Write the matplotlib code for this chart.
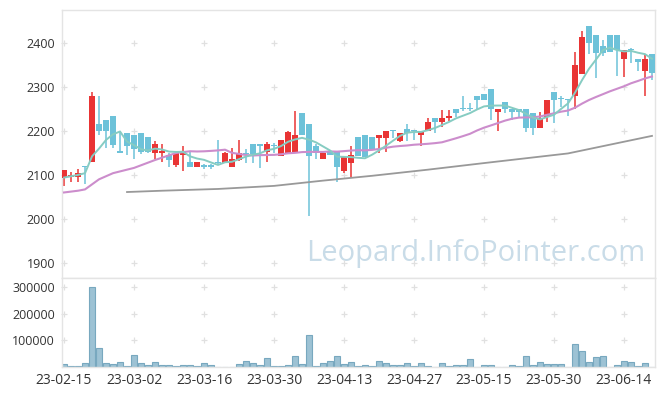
import numpy as np
import pandas as pd
import matplotlib
matplotlib.use('Agg')
import matplotlib.pyplot as plt

# tick labels, one every 10 trading days
tick_labels = ['23-02-15', '23-03-02', '23-03-16', '23-03-30', '23-04-13',
               '23-04-27', '23-05-15', '23-05-30', '23-06-14']

opens = [2094, 2095, 2095, 2119, 2129, 2216, 2226, 2235, 2155, 2195,
         2192, 2195, 2187, 2149, 2149, 2146, 2123, 2145, 2130, 2119,
         2120, 2120, 2130, 2128, 2119, 2134, 2150, 2171, 2171, 2153,
         2166, 2144, 2149, 2149, 2241, 2216, 2166, 2136, 2155, 2155,
         2110, 2128, 2187, 2191, 2187, 2185, 2185, 2201, 2178, 2205,
         2201, 2190, 2199, 2229, 2220, 2229, 2250, 2251, 2251, 2280,
         2285, 2296, 2244, 2266, 2250, 2250, 2250, 2241, 2208, 2233,
         2289, 2275, 2272, 2279, 2330, 2440, 2419, 2394, 2419, 2419,
         2364, 2386, 2365, 2338, 2376]
highs = [2111, 2107, 2113, 2121, 2290, 2280, 2226, 2235, 2199, 2195,
         2192, 2195, 2187, 2178, 2170, 2151, 2153, 2166, 2153, 2130,
         2125, 2126, 2180, 2153, 2161, 2180, 2160, 2171, 2171, 2174,
         2172, 2180, 2200, 2246, 2241, 2216, 2171, 2151, 2155, 2155,
         2143, 2167, 2187, 2191, 2187, 2191, 2200, 2201, 2195, 2216,
         2201, 2200, 2229, 2229, 2248, 2248, 2250, 2279, 2265, 2280,
         2285, 2296, 2251, 2266, 2250, 2250, 2250, 2241, 2244, 2271,
         2289, 2279, 2272, 2380, 2429, 2440, 2419, 2407, 2419, 2419,
         2385, 2389, 2365, 2376, 2376]
lows = [2075, 2084, 2083, 2080, 2129, 2191, 2161, 2161, 2149, 2146,
        2136, 2148, 2150, 2136, 2130, 2119, 2119, 2110, 2119, 2119,
        2113, 2114, 2126, 2128, 2119, 2132, 2128, 2128, 2115, 2130,
        2150, 2144, 2149, 2149, 2190, 2006, 2136, 2136, 2145, 2083,
        2104, 2095, 2143, 2140, 2159, 2149, 2153, 2185, 2174, 2178,
        2180, 2165, 2199, 2195, 2210, 2222, 2231, 2245, 2246, 2250,
        2270, 2225, 2200, 2241, 2225, 2233, 2197, 2191, 2208, 2221,
        2219, 2255, 2234, 2251, 2330, 2375, 2320, 2372, 2380, 2326,
        2324, 2355, 2338, 2279, 2317]
closes = [2111, 2100, 2104, 2117, 2280, 2199, 2199, 2168, 2149, 2165,
          2158, 2153, 2153, 2171, 2155, 2134, 2149, 2155, 2119, 2130,
          2119, 2119, 2127, 2149, 2136, 2149, 2148, 2148, 2165, 2171,
          2165, 2180, 2197, 2191, 2190, 2144, 2149, 2151, 2145, 2119,
          2142, 2146, 2143, 2140, 2159, 2191, 2200, 2200, 2195, 2195,
          2200, 2200, 2220, 2220, 2229, 2235, 2241, 2250, 2250, 2270,
          2270, 2250, 2251, 2250, 2244, 2244, 2208, 2208, 2229, 2271,
          2270, 2274, 2271, 2351, 2414, 2400, 2379, 2379, 2380, 2385,
          2385, 2385, 2358, 2364, 2333]
volumes = [10000, 2500, 2500, 14000, 303000, 70000, 14000, 10000, 17500, 2500,
           44000, 14000, 6000, 17500, 6000, 6000, 2500, 6000, 6000, 2500,
           14000, 6000, 0, 0, 0, 10000, 21000, 14000, 6000, 32500,
           2500, 2500, 6000, 40000, 10000, 119000, 2500, 14000, 21000, 40000,
           10000, 17500, 2500, 6000, 2500, 21000, 14000, 6000, 6000, 14000,
           2500, 14000, 2500, 0, 14000, 2500, 6000, 6000, 29000, 0,
           6000, 6000, 0, 0, 6000, 2500, 40000, 6000, 17500, 10000,
           10000, 10000, 0, 85000, 59000, 17500, 36000, 40000, 0, 9000,
           24000, 20000, 4000, 16000, 0]

# moving average values read off the chart where earlier closes are not shown
ma5_head = [2094, 2097, 2100, 2104]
ma20_head_idx = [0, 1, 2, 3, 5, 7, 10, 13, 16, 18]
ma20_head = [2060, 2062, 2064, 2067, 2090, 2104, 2116, 2134, 2150, 2154]
ma_long_idx = [9, 14, 22, 30, 37, 44, 52, 60, 66, 72, 78, 84]
ma_long = [2061, 2064, 2068, 2075, 2087, 2098, 2112, 2127, 2138, 2149, 2169, 2189]

price_ticks = [1900, 2000, 2100, 2200, 2300, 2400]
volume_ticks = [100000, 200000, 300000]

UP = '#e93434'
DOWN = '#6dc2d9'
FRAME = '#e4e4e4'
GRID = '#e0e0e0'
TEXT = '#333333'
W, H = 665, 396


def draw_candles(ax, x):
    o = np.array(opens)
    c = np.array(closes)
    cols = [UP if cc > oo else DOWN for oo, cc in zip(o, c)]
    ax.vlines(x, lows, highs, colors=cols, lw=1.1, zorder=2)
    body = np.maximum(np.abs(c - o), 2.5)
    ax.bar(x, body, bottom=np.minimum(o, c), width=0.74, color=cols,
           linewidth=0, zorder=3)


def plus_grid(ax, xs, ys):
    gx, gy = np.meshgrid(xs, ys)
    ax.plot(gx.ravel(), gy.ravel(), '+', color=GRID, ms=4, mew=0.9,
            zorder=1, clip_on=False)


def style_axes(ax):
    for s in ax.spines.values():
        s.set_color(FRAME)
        s.set_linewidth(1.0)
    ax.tick_params(length=0, labelsize=9, colors=TEXT, pad=5)
    for t in ax.get_xticklabels() + ax.get_yticklabels():
        t.set_fontfamily('Open Sans')


def main():
    n = len(closes)
    x = np.arange(n)
    tick_pos = np.arange(len(tick_labels)) * 10

    s = pd.Series(closes, dtype=float)
    ma5 = s.rolling(5).mean().values
    ma5[:4] = ma5_head
    ma20 = s.rolling(20).mean().values

    fig = plt.figure(figsize=(W / 100, H / 100), dpi=100)
    ax = fig.add_axes([62 / W, (H - 278) / H, 593 / W, 268 / H])
    axv = fig.add_axes([62 / W, (H - 367) / H, 593 / W, 89 / H])

    # price panel
    xlim = (-0.29, 84.43)
    ax.set_xlim(*xlim)
    ax.set_ylim(1865, 2476)
    ax.text(0.983, 0.093, 'Leopard.InfoPointer.com', transform=ax.transAxes,
            ha='right', va='center', fontsize=21, color='#c9dce8',
            family='Open Sans', zorder=0)
    plus_grid(ax, tick_pos, price_ticks)
    draw_candles(ax, x)
    ax.plot(ma_long_idx, ma_long, color='#999999', lw=1.3, zorder=4)
    ax.plot(list(ma20_head_idx) + list(x[19:]),
            list(ma20_head) + list(ma20[19:]),
            color='#cc8dcc', lw=1.5, zorder=4)
    ax.plot(x, ma5, color='#86ccc2', lw=1.4, zorder=5)
    ax.set_yticks(price_ticks)
    ax.set_xticks(tick_pos)
    ax.set_xticklabels([])
    style_axes(ax)

    # volume panel
    axv.set_xlim(*xlim)
    axv.set_ylim(0, 335000)
    plus_grid(axv, tick_pos, volume_ticks)
    axv.bar(x, volumes, width=0.92, color='#9dc2d4', edgecolor='#78a8bf',
            linewidth=0.8, zorder=2)
    axv.set_yticks(volume_ticks)
    axv.set_yticklabels([str(v) for v in volume_ticks])
    axv.set_xticks(tick_pos)
    axv.set_xticklabels(tick_labels)
    style_axes(axv)
    axv.tick_params(axis='x', labelsize=10, pad=4)

    fig.savefig('out.png', dpi=100, facecolor='white')


if __name__ == '__main__':
    main()
